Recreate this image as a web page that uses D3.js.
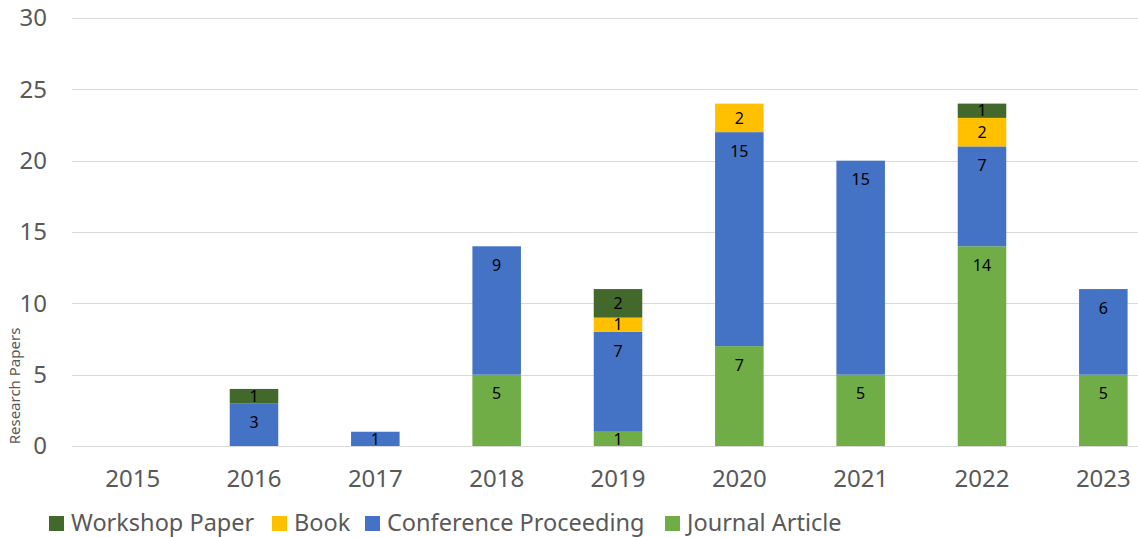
<!DOCTYPE html>
<html>
<head>
<meta charset="utf-8">
<script src="https://cdn.jsdelivr.net/npm/d3@7"></script>
<style>
  body { margin: 0; background: #fff; }
  text { font-family: "Noto Sans", "Open Sans", sans-serif; }
</style>
</head>
<body>
<div id="canvas"></div>
<script>
const years = ["2015", "2016", "2017", "2018", "2019", "2020", "2021", "2022", "2023"];
const journal    = [0, 0, 0, 5, 1, 7, 5, 14, 5];
const conference = [0, 3, 1, 9, 7, 15, 15, 7, 6];
const book       = [0, 0, 0, 0, 1, 2, 0, 2, 0];
const workshop   = [0, 1, 0, 0, 2, 0, 0, 1, 0];
const yTicks = [0, 5, 10, 15, 20, 25, 30];

// stacking order bottom -> top
const seriesNames = ["Journal Article", "Conference Proceeding", "Book", "Workshop Paper"];
const seriesColors = ["#70ad47", "#4472c4", "#ffc000", "#43682b"];
const legendOrder = ["Workshop Paper", "Book", "Conference Proceeding", "Journal Article"];

const width = 1138;
const height = 537;
const margin = { top: 18, left: 72, bottom: 91, right: -26 };
const iwidth = width - margin.left - margin.right;
const iheight = height - margin.top - margin.bottom;

const svg = d3.select("#canvas").append("svg")
  .attr("width", width)
  .attr("height", height);

const g = svg.append("g").attr("transform", `translate(${margin.left},${margin.top})`);

const table = years.map((yr, i) => ({
  year: yr,
  "Journal Article": journal[i],
  "Conference Proceeding": conference[i],
  "Book": book[i],
  "Workshop Paper": workshop[i]
}));

const stacked = d3.stack().keys(seriesNames)(table);

const x = d3.scaleBand()
  .domain(years)
  .range([0, iwidth])
  .paddingInner(0.6)
  .paddingOuter(0.3);

const y = d3.scaleLinear()
  .domain([0, 30])
  .range([iheight, 0]);

const color = d3.scaleOrdinal().domain(seriesNames).range(seriesColors);

// gridlines
g.append("g")
  .selectAll("line")
  .data(yTicks)
  .enter().append("line")
  .attr("x1", 0)
  .attr("x2", iwidth)
  .attr("y1", d => Math.round(y(d)) + 0.5)
  .attr("y2", d => Math.round(y(d)) + 0.5)
  .attr("stroke", "#d9d9d9")
  .attr("stroke-width", 1);

// y tick labels
const yAxis = g.append("g")
  .call(d3.axisLeft(y).tickValues(yTicks).tickSize(0).tickPadding(25));
yAxis.select(".domain").remove();
yAxis.selectAll("text")
  .attr("fill", "#595959")
  .style("font-size", "24px")
  .style("font-family", "'Noto Sans', sans-serif");

// x tick labels
const xAxis = g.append("g")
  .attr("transform", `translate(0,${iheight})`)
  .call(d3.axisBottom(x).tickSize(0).tickPadding(24));
xAxis.select(".domain").remove();
xAxis.selectAll("text")
  .attr("fill", "#595959")
  .style("font-size", "24px")
  .style("font-family", "'Noto Sans', sans-serif");

// bars
const layers = g.selectAll(".layer")
  .data(stacked)
  .enter().append("g")
  .attr("class", "layer")
  .attr("fill", d => color(d.key));

layers.selectAll("rect")
  .data(d => d)
  .enter().append("rect")
  .attr("x", d => x(d.data.year))
  .attr("y", d => y(d[1]))
  .attr("width", x.bandwidth())
  .attr("height", d => y(d[0]) - y(d[1]));

// data labels (inside end)
layers.selectAll("text")
  .data(d => d.filter(p => p[1] - p[0] > 0))
  .enter().append("text")
  .attr("x", d => x(d.data.year) + x.bandwidth() / 2)
  .attr("y", d => {
    const top = y(d[1]);
    const mid = (y(d[0]) + y(d[1])) / 2;
    return Math.min(top + 19, mid);
  })
  .attr("dy", "0.36em")
  .attr("text-anchor", "middle")
  .attr("fill", "#000")
  .style("font-size", "16px")
  .text(d => d[1] - d[0]);

// y axis title
svg.append("text")
  .attr("transform", "translate(20,386) rotate(-90)")
  .attr("text-anchor", "middle")
  .attr("fill", "#595959")
  .style("font-size", "15px")
  .text("Research Papers");

// legend
const legendX = [49, 272, 365, 665];
const legend = svg.append("g").attr("transform", "translate(0,523)");
const items = legend.selectAll("g")
  .data(legendOrder)
  .enter().append("g")
  .attr("transform", (d, i) => `translate(${legendX[i]},0)`);
items.append("rect")
  .attr("x", 0)
  .attr("y", -7)
  .attr("width", 15)
  .attr("height", 15)
  .attr("fill", d => color(d));
items.append("text")
  .attr("x", 22)
  .attr("y", 0)
  .attr("dy", "0.36em")
  .attr("fill", "#595959")
  .style("font-size", "23.5px")
  .text(d => d);
</script>
</body>
</html>
